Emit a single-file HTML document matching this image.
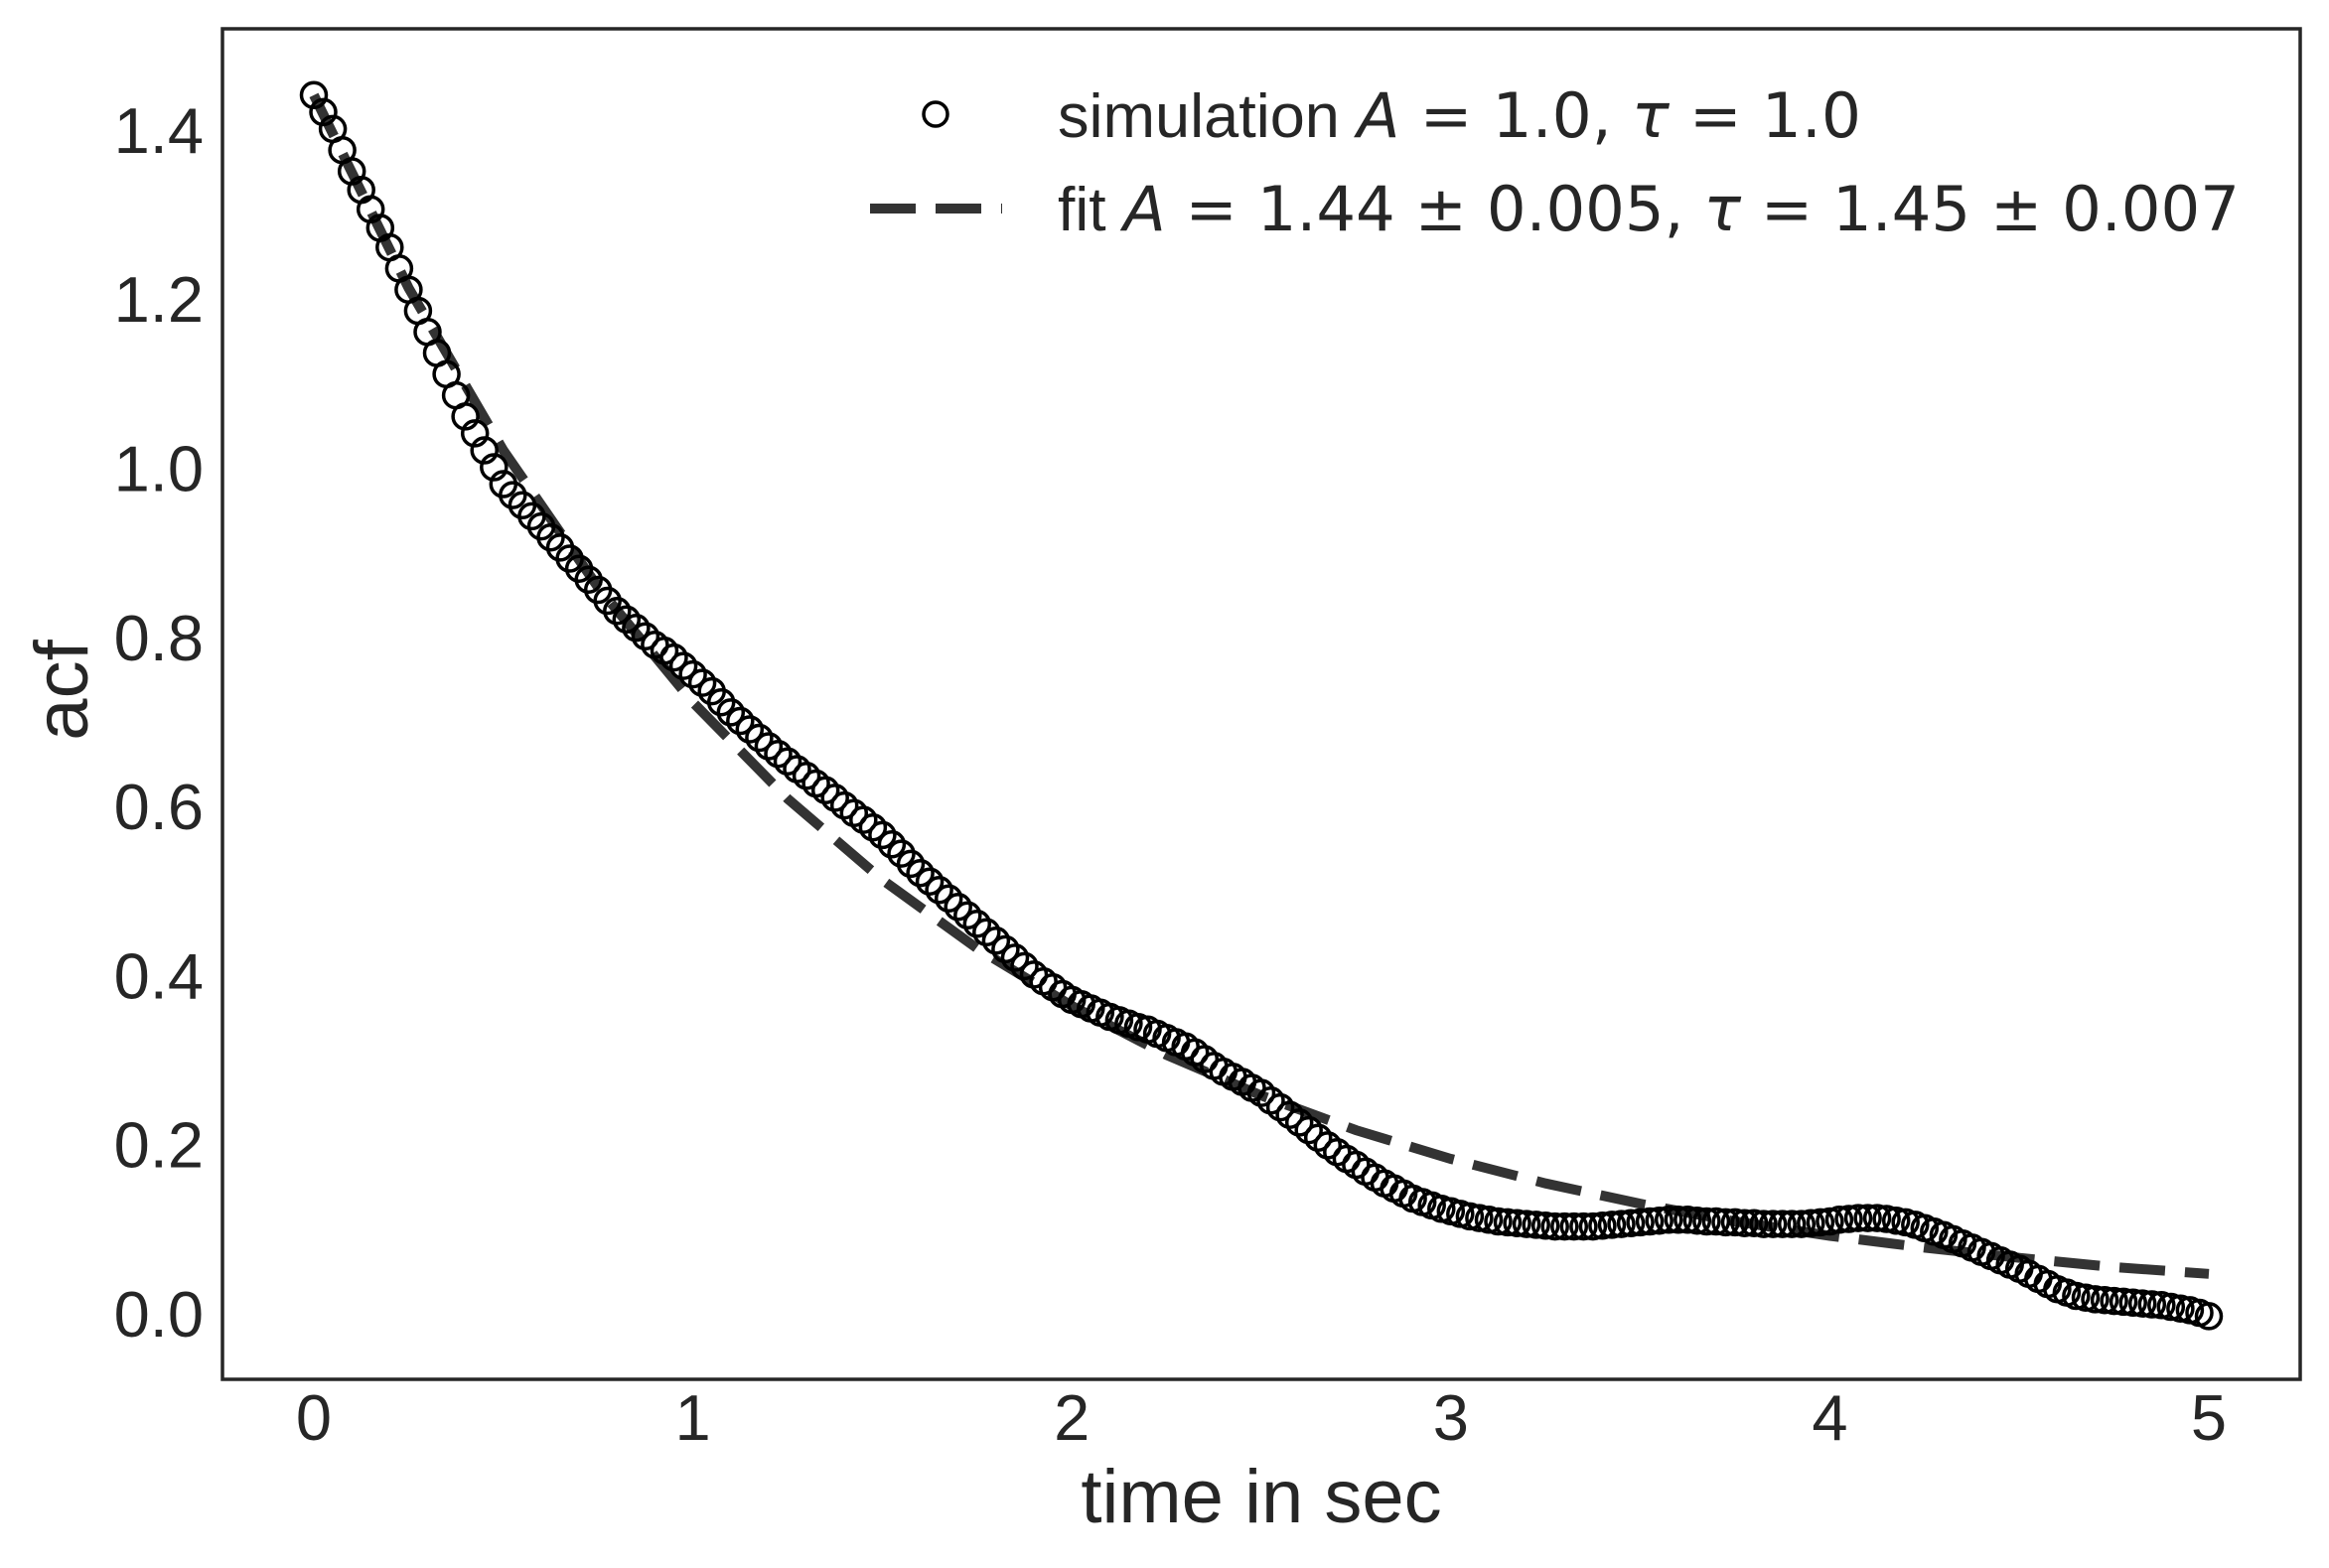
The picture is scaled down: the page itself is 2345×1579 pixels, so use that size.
<!DOCTYPE html>
<html><head><meta charset="utf-8"><style>
html,body{margin:0;padding:0;background:#fff;}
svg{display:block;}
text{fill:#262626;}
</style></head><body>
<svg id="chart" width="2345" height="1579" viewBox="0 0 2345 1579" xmlns="http://www.w3.org/2000/svg">
<rect x="0" y="0" width="2345" height="1579" fill="#fff"/>
<g id="fitg"></g>
<g id="simg"></g>
<rect x="224" y="29" width="2092" height="1360" fill="none" stroke="#262626" stroke-width="3.5"/>
<g id="xticks"></g>
<g id="yticks"></g>
<text x="1270" y="1533" font-family="Liberation Sans, sans-serif" font-size="76" text-anchor="middle">time in sec</text>
<text transform="translate(88,695) rotate(-90)" font-family="Liberation Sans, sans-serif" font-size="76" text-anchor="middle">acf</text>
<g>
<circle cx="942" cy="115" r="12" fill="none" stroke="#000" stroke-width="3.5"/>
<text x="1065" y="138" font-family="Liberation Sans, DejaVu Sans, sans-serif" font-size="62" textLength="809" lengthAdjust="spacingAndGlyphs">simulation <tspan font-family="DejaVu Sans, sans-serif" font-style="italic">A</tspan><tspan font-family="DejaVu Sans, sans-serif"> = 1.0, </tspan><tspan font-family="DejaVu Sans, sans-serif" font-style="italic">τ</tspan><tspan font-family="DejaVu Sans, sans-serif"> = 1.0</tspan></text>
<line x1="876" y1="210" x2="1009" y2="210" stroke="#333" stroke-width="10" stroke-dasharray="46,20"/>
<text x="1065" y="232" font-family="Liberation Sans, DejaVu Sans, sans-serif" font-size="62" textLength="1190" lengthAdjust="spacingAndGlyphs">fit <tspan font-family="DejaVu Sans, sans-serif" font-style="italic">A</tspan><tspan font-family="DejaVu Sans, sans-serif"> = 1.44 ± 0.005, </tspan><tspan font-family="DejaVu Sans, sans-serif" font-style="italic">τ</tspan><tspan font-family="DejaVu Sans, sans-serif"> = 1.45 ± 0.007</tspan></text>
</g>
</svg>
<script>
const simStep = 0.025;
const simValues = [
1.44,1.42,1.40,1.375,1.35,1.328,1.305,1.283,1.26,1.235,
1.21,1.185,1.16,1.135,1.11,1.085,1.06,1.04,1.02,1.0,
0.98,0.967,0.955,0.942,0.93,0.917,0.905,0.892,0.88,0.867,
0.855,0.842,0.83,0.82,0.81,0.80,0.79,0.783,0.775,0.765,
0.755,0.745,0.735,0.722,0.71,0.70,0.69,0.68,0.67,0.661,
0.652,0.643,0.635,0.626,0.618,0.609,0.60,0.591,0.583,0.574,
0.565,0.554,0.543,0.531,0.52,0.51,0.50,0.49,0.48,0.47,
0.46,0.45,0.44,0.43,0.42,0.41,0.40,0.392,0.385,0.377,
0.37,0.365,0.36,0.355,0.35,0.346,0.342,0.338,0.335,0.33,
0.325,0.32,0.315,0.308,0.30,0.292,0.285,0.279,0.273,0.266,
0.26,0.251,0.243,0.234,0.225,0.216,0.207,0.198,0.19,0.182,
0.175,0.167,0.16,0.153,0.147,0.141,0.135,0.131,0.127,0.123,
0.12,0.117,0.114,0.112,0.11,0.108,0.107,0.106,0.105,0.104,
0.103,0.102,0.102,0.102,0.102,0.102,0.103,0.104,0.105,0.106,
0.107,0.108,0.109,0.11,0.11,0.11,0.109,0.108,0.108,0.107,
0.107,0.106,0.106,0.105,0.105,0.105,0.105,0.105,0.106,0.107,
0.108,0.11,0.111,0.112,0.112,0.112,0.111,0.109,0.107,0.104,
0.10,0.096,0.092,0.087,0.082,0.077,0.072,0.067,0.062,0.057,
0.052,0.046,0.04,0.034,0.028,0.024,0.02,0.018,0.016,0.015,
0.014,0.013,0.012,0.011,0.01,0.009,0.007,0.005,0.003,0.0,
-0.004];
const fitT = [0,0.25,0.5,0.75,1.0,1.25,1.5,1.75,2.0,2.25,2.5,2.75,3.0,3.25,3.5,3.75,4.0,4.25,4.5,4.75,5.0];
const fitValues = [1.44,1.212,1.020,0.858,0.722,0.608,0.512,0.431,0.363,0.305,0.257,0.216,0.182,0.153,0.129,0.108,0.091,0.077,0.065,0.054,0.046];
const xTicks = [0,1,2,3,4,5];
const yTicks = [0.0,0.2,0.4,0.6,0.8,1.0,1.2,1.4];

const NS = 'http://www.w3.org/2000/svg';
function xs(v){ return 316 + v*381.6; }
function ys(v){ return 1322 - v*851.5; }

const fitg = document.getElementById('fitg');
const path = document.createElementNS(NS,'path');
let d = '';
for(let i=0;i<fitT.length;i++){ d += (i?'L':'M') + xs(fitT[i]).toFixed(1) + ',' + ys(fitValues[i]).toFixed(1); }
path.setAttribute('d', d);
path.setAttribute('fill','none');
path.setAttribute('stroke','#333');
path.setAttribute('stroke-width','10');
path.setAttribute('stroke-dasharray','46,20');


fitg.appendChild(path);

const simg = document.getElementById('simg');
for(let i=0;i<simValues.length;i++){
  const c = document.createElementNS(NS,'circle');
  c.setAttribute('cx', xs(i*simStep).toFixed(1));
  c.setAttribute('cy', ys(simValues[i]).toFixed(1));
  c.setAttribute('r','12.5');
  c.setAttribute('fill','none');
  c.setAttribute('stroke','#000');
  c.setAttribute('stroke-width','3.5');
  
  
  simg.appendChild(c);
}

const xg = document.getElementById('xticks');
xTicks.forEach(v=>{
  const t = document.createElementNS(NS,'text');
  t.setAttribute('x', xs(v));
  t.setAttribute('y', 1450);
  t.setAttribute('text-anchor','middle');
  t.setAttribute('font-family','Liberation Sans, sans-serif');
  t.setAttribute('font-size','65');
  t.textContent = String(v);
  
  
  xg.appendChild(t);
});
const yg = document.getElementById('yticks');
yTicks.forEach(v=>{
  const t = document.createElementNS(NS,'text');
  t.setAttribute('x', 205);
  t.setAttribute('y', ys(v)+24);
  t.setAttribute('text-anchor','end');
  t.setAttribute('font-family','Liberation Sans, sans-serif');
  t.setAttribute('font-size','65');
  t.textContent = v.toFixed(1);
  
  
  yg.appendChild(t);
});
</script>
</body></html>
